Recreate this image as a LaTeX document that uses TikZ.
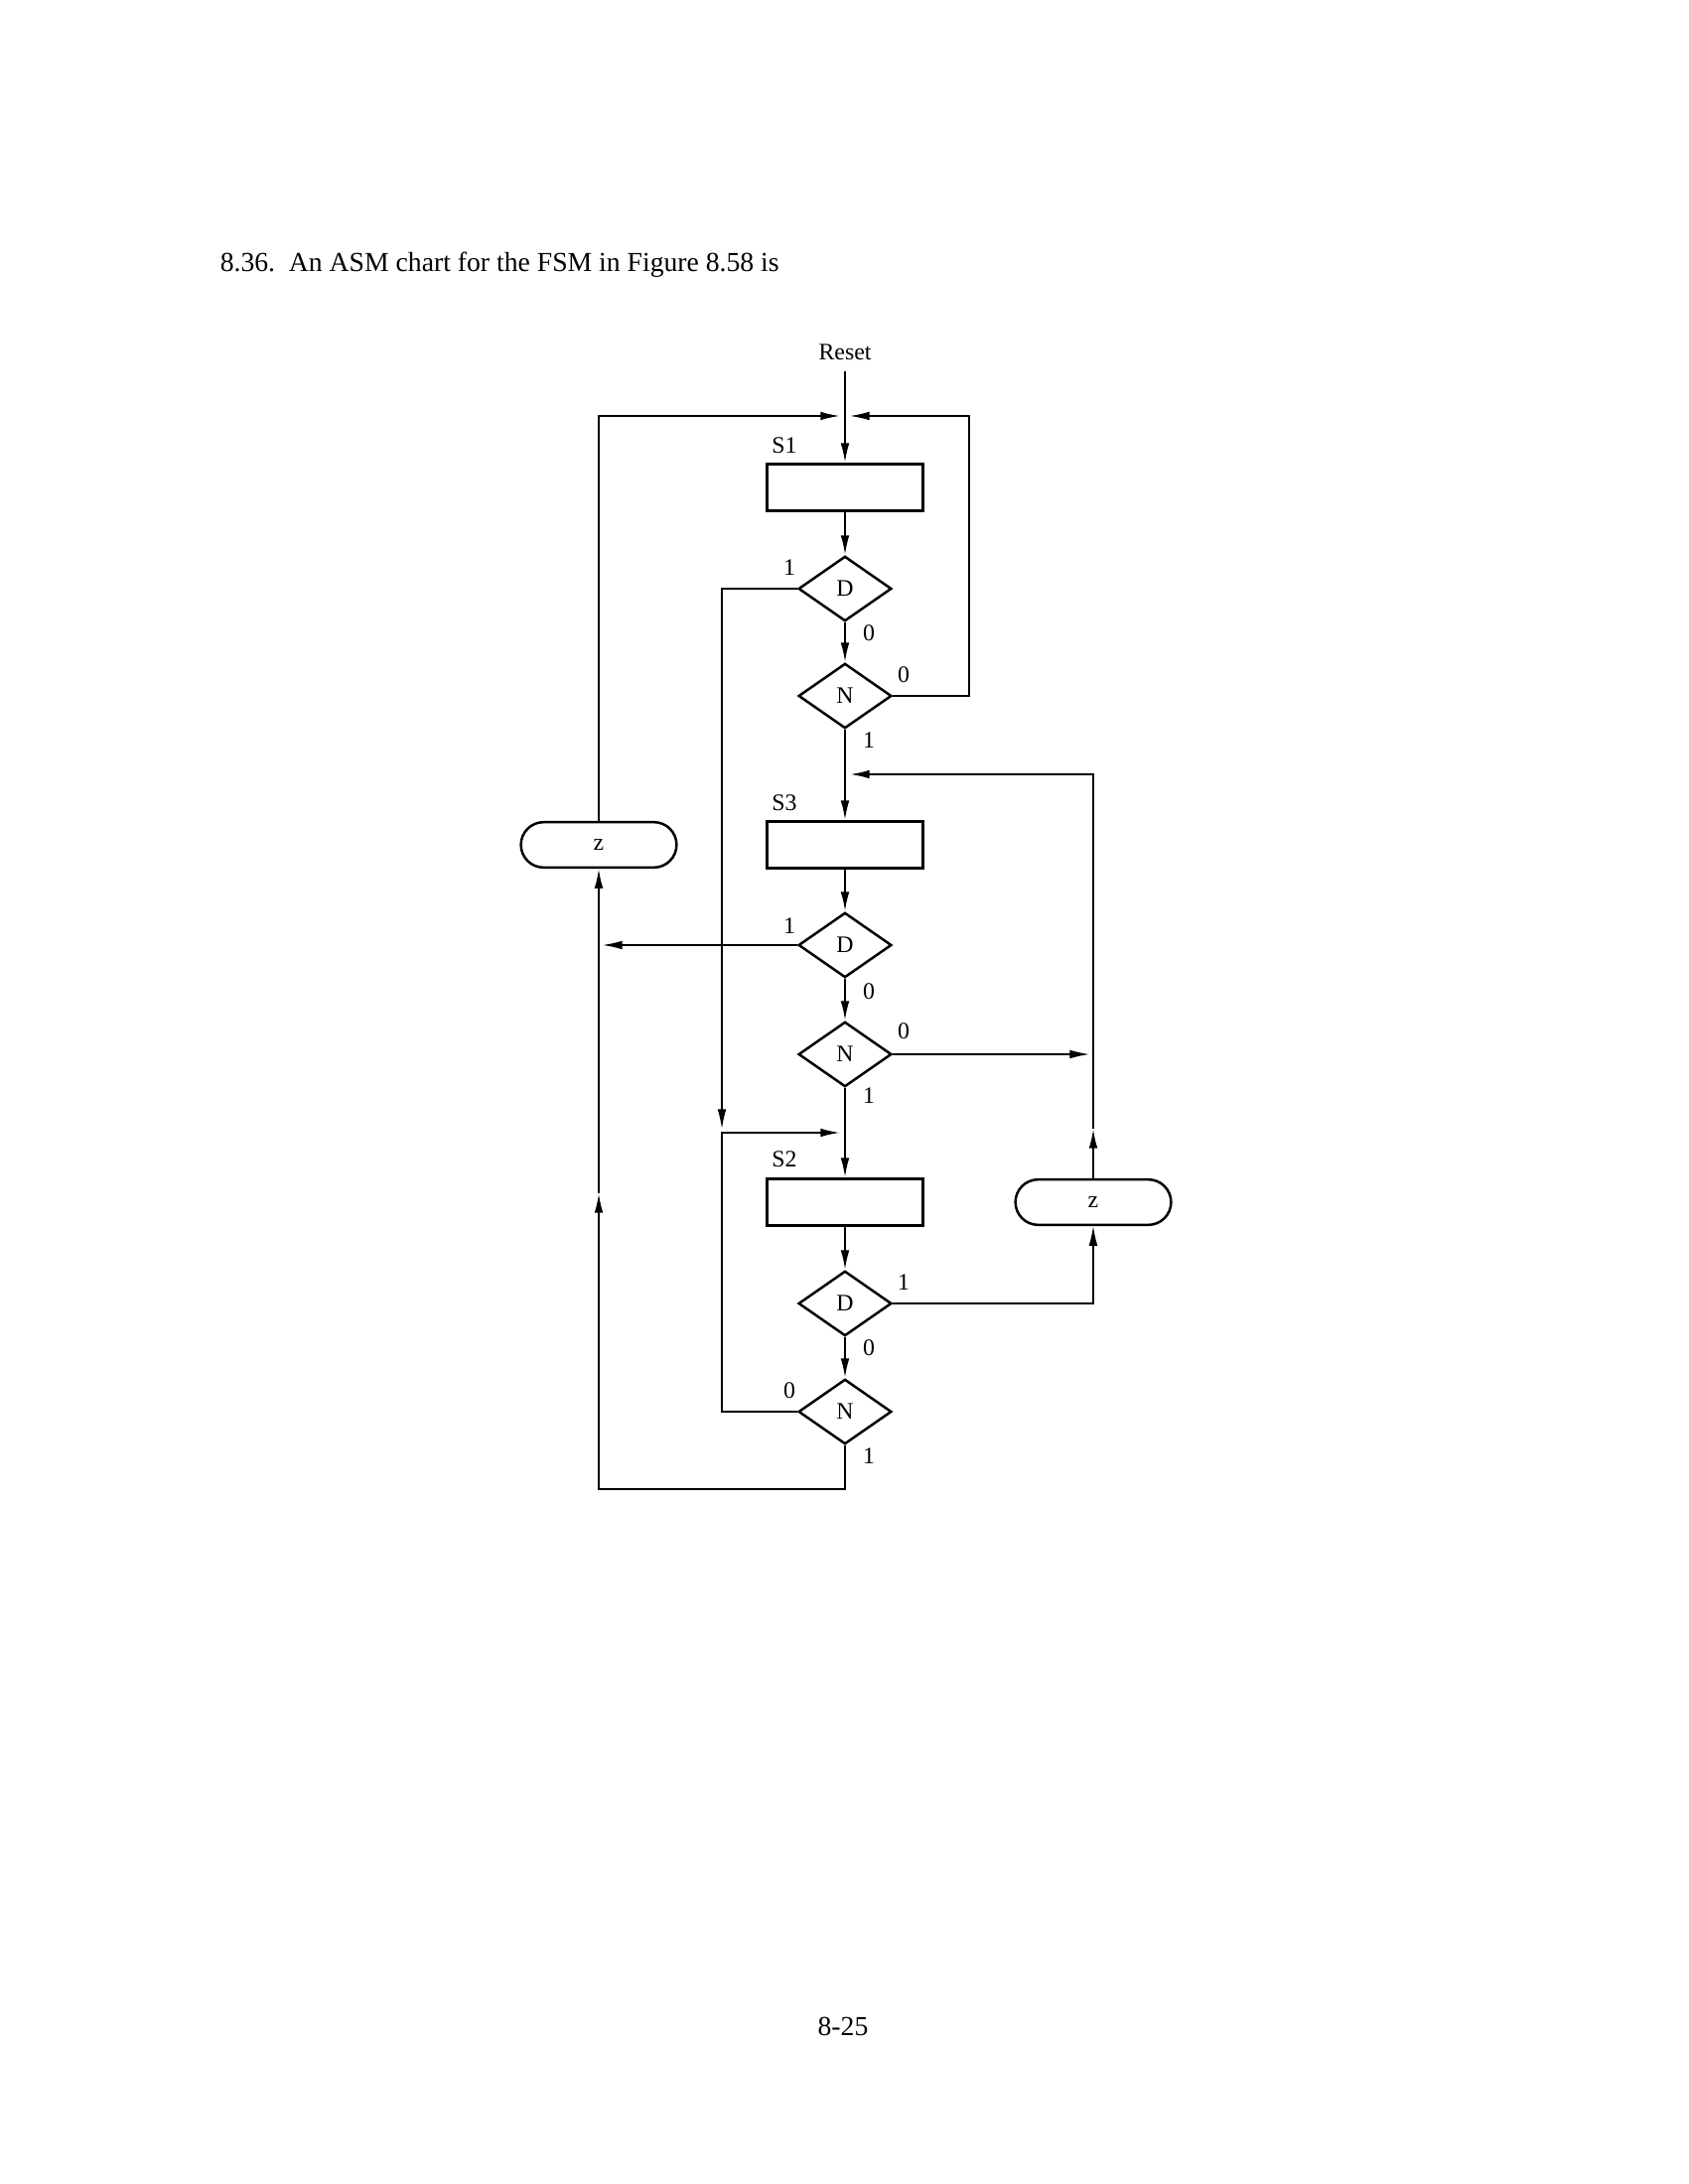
\documentclass[tikz,border=0pt]{standalone}
\usepackage{fontspec}
\setmainfont{Liberation Serif}
\usetikzlibrary{arrows.meta,shapes.geometric,shapes.misc}
\tikzset{
  statebox/.style={draw,line width=0.9pt,minimum width=1.99cm,minimum height=0.6cm,inner sep=0pt},
  condbox/.style={draw,diamond,line width=0.9pt,minimum width=1.19cm,minimum height=0.83cm,inner sep=0pt,font=\fontsize{8.6}{10}\selectfont},
  outbox/.style={draw,rounded rectangle,line width=0.9pt,minimum width=1.99cm,minimum height=0.58cm,inner sep=0pt,font=\fontsize{8.6}{10}\selectfont},
  flow/.style={line width=0.7pt,-{Latex[length=0.25cm,width=0.11cm]}},
  thinflow/.style={line width=0.45pt,-{Latex[length=0.25cm,width=0.11cm]}},
  lbl/.style={font=\fontsize{8.6}{10}\selectfont,inner sep=0pt},
}
\begin{document}
\begin{tikzpicture}[x=0.0127cm,y=-0.0127cm]
\useasboundingbox (0,0) rectangle (1700,2200);
\node[anchor=west,font=\fontsize{10}{12}\selectfont] (title) at (212,267) {8.36.\ \ An ASM chart for the FSM in Figure 8.58 is};
\node[font=\fontsize{10}{12}\selectfont] (page) at (849,2041) {8-25};
% states and conditions
\node[lbl] (reset) at (851,355) {Reset};
\node[statebox] (s1) at (851,491) {};
\node[condbox] (d1) at (851,593) {D};
\node[condbox] (n1) at (851,701) {N};
\node[statebox] (s3) at (851,851) {};
\node[condbox] (d2) at (851,952) {D};
\node[condbox] (n2) at (851,1062) {N};
\node[statebox] (s2) at (851,1211) {};
\node[condbox] (d3) at (851,1313) {D};
\node[condbox] (n3) at (851,1422) {N};
\node[outbox] (zl) at (603,851) {z};
\node[outbox] (zr) at (1101,1211) {z};
\node[lbl] at (790,449) {S1};
\node[lbl] at (790,809) {S3};
\node[lbl] at (790,1168) {S2};
% branch labels
\node[lbl] at (795,572) {1};
\node[lbl] at (875,638) {0};
\node[lbl] at (910,680) {0};
\node[lbl] at (875,746) {1};
\node[lbl] at (795,933) {1};
\node[lbl] at (875,999) {0};
\node[lbl] at (910,1039) {0};
\node[lbl] at (875,1104) {1};
\node[lbl] at (910,1292) {1};
\node[lbl] at (875,1358) {0};
\node[lbl] at (795,1401) {0};
\node[lbl] at (875,1467) {1};
% junction points
\coordinate (rtop) at (851,374);
\coordinate (j1l) at (846,419);
\coordinate (j1r) at (856,419);
\coordinate (tr) at (976,419);
\coordinate (j3r) at (856,780);
\coordinate (rmid) at (1101,1137);
\coordinate (n2end) at (1097,1062);
\coordinate (d2end) at (607,952);
\coordinate (j2u) at (727,1137);
\coordinate (j2l) at (727,1141);
\coordinate (j2r) at (846,1141);
\coordinate (bl) at (603,1500);
\coordinate (lmid) at (603,1202);
% main column
\draw[flow] (rtop) -- (s1.north);
\draw[flow] (s1.south) -- (d1.north);
\draw[flow] (d1.south) -- (n1.north);
\draw[flow] (n1.south) -- (s3.north);
\draw[flow] (s3.south) -- (d2.north);
\draw[flow] (d2.south) -- (n2.north);
\draw[flow] (n2.south) -- (s2.north);
\draw[flow] (s2.south) -- (d3.north);
\draw[flow] (d3.south) -- (n3.north);
% loops
\draw[flow] (zl.north) |- (j1l);
\draw[thinflow] (n1.east) -| (tr) -- (j1r);
\draw[thinflow] (d1.west) -| (j2u);
\draw[flow] (n3.west) -| (j2l) -- (j2r);
\draw[thinflow] (d2.west) -- (d2end);
\draw[thinflow] (n2.east) -- (n2end);
\draw[thinflow] (d3.east) -| (zr.south);
\draw[flow] (zr.north) -- (rmid);
\draw[flow] (rmid) |- (j3r);
\draw[flow] (n3.south) |- (bl) -- (lmid);
\draw[flow] (lmid) -- (zl.south);
\end{tikzpicture}
\end{document}
